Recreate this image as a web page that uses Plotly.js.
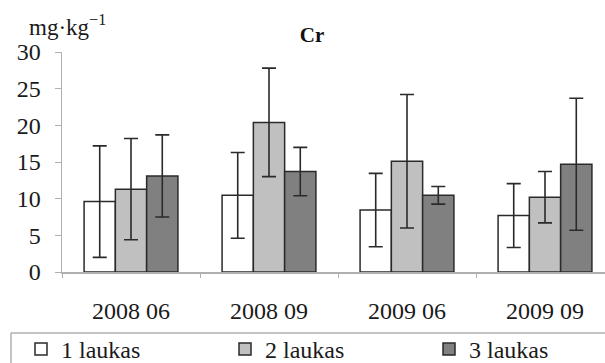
<!DOCTYPE html>
<html>
<head>
<meta charset="utf-8">
<script src="https://cdn.plot.ly/plotly-3.0.1.min.js"></script>
<style>html,body{margin:0;padding:0;background:#fff;}#chart{width:605px;height:363px;}</style>
</head>
<body>
<div id="chart"></div>
<script>
const categories = ["2008 06", "2008 09", "2009 06", "2009 09"];
const seriesNames = ["1 laukas", "2 laukas", "3 laukas"];
const field1 = [9.6, 10.45, 8.45, 7.7];
const field1Err = [7.6, 5.85, 5.0, 4.35];
const field2 = [11.3, 20.4, 15.1, 10.2];
const field2Err = [6.9, 7.4, 9.1, 3.5];
const field3 = [13.1, 13.7, 10.45, 14.7];
const field3Err = [5.6, 3.3, 1.2, 9.0];
const colors = ["#ffffff", "#c0c0c0", "#808080"];

const values = [field1, field2, field3];
const errs = [field1Err, field2Err, field3Err];
const serif = "Liberation Serif";
const legendIds = ["legend", "legend2", "legend3"];

const traces = values.map((v, i) => ({
  type: "bar",
  name: seriesNames[i],
  legend: legendIds[i],
  x: categories,
  y: v,
  marker: {color: colors[i], line: {color: "#2a2a2a", width: 1.5}},
  error_y: {type: "data", array: errs[i], visible: true, color: "#2a2a2a", thickness: 1.6, width: 7}
}));

const W = 605, H = 363, L = 62, R = 0, T = 52, B = 91;
const pw = W - L - R, ph = H - T - B;
const catPx = 138;
const px2x = p => (p - L) / pw;
const px2y = p => (H - B - p) / ph;

const legendX = [21, 225, 429];
const mkLegend = i => ({
  x: px2x(legendX[i]), xanchor: "left", y: px2y(327), yanchor: "top",
  font: {family: serif, size: 24, color: "#1a1a1a"}, bgcolor: "rgba(0,0,0,0)", borderwidth: 0
});

const layout = {
  width: W, height: H,
  margin: {l: L, r: R, t: T, b: B, autoexpand: false},
  paper_bgcolor: "#fff", plot_bgcolor: "#fff",
  barmode: "group", bargap: 0.32, bargroupgap: 0,
  font: {family: serif, color: "#1a1a1a"},
  title: {text: "<b>Cr</b>", font: {family: serif, size: 21, color: "#111"}, x: 312 / W, xref: "container", xanchor: "center", y: 1 - 35 / H, yanchor: "middle"},
  xaxis: {
    type: "category", range: [-0.5, -0.5 + pw / catPx],
    tickson: "boundaries", ticks: "outside", ticklen: 4, tickcolor: "#b0b0b0",
    showline: true, linecolor: "#b0b0b0", linewidth: 1.5, showgrid: false, zeroline: false,
    tickfont: {family: serif, size: 24, color: "#1a1a1a"}, ticklabelstandoff: 17, tickangle: 0
  },
  yaxis: {
    range: [0, 30], dtick: 5, ticks: "outside", ticklen: 6, tickcolor: "#b0b0b0",
    showline: true, linecolor: "#b0b0b0", linewidth: 1.5, showgrid: false, zeroline: false,
    tickfont: {family: serif, size: 24, color: "#1a1a1a"}, ticklabelstandoff: 9
  },
  showlegend: true,
  legend: mkLegend(0),
  legend2: mkLegend(1),
  legend3: mkLegend(2),
  shapes: [
    {type: "line", xref: "paper", yref: "paper", x0: px2x(11), x1: px2x(W + 5), y0: px2y(333), y1: px2y(333), line: {color: "#b0b0b0", width: 1.5}},
    {type: "line", xref: "paper", yref: "paper", x0: px2x(11), x1: px2x(11), y0: px2y(333), y1: px2y(H + 5), line: {color: "#b0b0b0", width: 1.5}}
  ],
  annotations: [{
    text: "mg·kg<sup>−1</sup>", xref: "paper", yref: "paper", x: px2x(108), y: px2y(42),
    xanchor: "right", yanchor: "bottom", showarrow: false, font: {family: serif, size: 23, color: "#1a1a1a"}
  }]
};

Plotly.newPlot("chart", traces, layout, {displayModeBar: false, staticPlot: true});
</script>
</body>
</html>
